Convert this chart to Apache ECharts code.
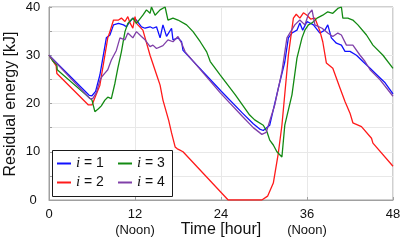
<!DOCTYPE html>
<html><head><meta charset="utf-8">
<script src="https://cdn.jsdelivr.net/npm/echarts@6/dist/echarts.min.js"></script>
<style>html,body{margin:0;padding:0;background:#fff}#c{width:409px;height:242px}</style>
</head><body><div id="c"></div>
<script>
var seriesNames = ['i = 1', 'i = 2', 'i = 3', 'i = 4'];
var legendOrder = ['i = 1', 'i = 3', 'i = 2', 'i = 4'];
var xTicks = [0, 12, 24, 36, 48];
var noonTicks = [12, 36];
var yTicks = [0, 10, 20, 30, 40];
var xTitle = 'Time [hour]';
var yTitle = 'Residual energy [kJ]';

var hours1 = [0, 5.6, 6.0, 6.5, 7.1, 8.0, 8.5, 9.0, 9.7, 10.4, 10.8, 11.3, 11.7, 12.2, 12.9, 13.4, 14.1, 14.5, 15.0, 15.5, 15.9, 16.4, 17.1, 17.3, 18.0, 18.5, 18.7, 24.0, 27.0, 28.5, 29.4, 29.9, 30.8, 32.0, 32.9, 33.4, 33.9, 34.6, 35.0, 35.4, 36.0, 36.9, 37.8, 38.5, 38.9, 39.4, 40.1, 40.8, 41.3, 42.0, 42.9, 43.8, 44.8, 46.2, 46.9, 48];
var energy1 = [30, 21.7, 21.6, 22.5, 25.9, 33.6, 34.2, 36.3, 36.6, 36.3, 35.9, 37.0, 37.7, 37.3, 35.9, 35.6, 35.9, 35.6, 35.9, 33.6, 36.3, 33.9, 35.6, 33.2, 33.6, 32.8, 31.0, 22.6, 18.0, 15.8, 14.7, 14.4, 15.5, 23.2, 28.6, 33.6, 34.6, 35.2, 36.7, 35.2, 37.0, 36.3, 34.6, 35.2, 36.3, 33.6, 32.5, 32.1, 30.8, 30.8, 30.0, 28.7, 27.3, 25.3, 24.3, 22.0];

var hours2 = [0, 1.0, 1.1, 5.5, 6.0, 7.1, 8.2, 8.5, 9.0, 9.7, 10.1, 10.6, 11.0, 11.3, 11.7, 12.0, 12.2, 13.1, 14.1, 15.0, 15.5, 15.9, 16.7, 17.1, 17.6, 17.9, 18.2, 18.7, 25.0, 29.7, 30.5, 31.3, 32.0, 32.5, 33.4, 34.1, 34.5, 35.0, 35.5, 36.0, 36.5, 37.1, 37.8, 38.2, 38.7, 39.6, 40.6, 41.3, 42.0, 42.4, 43.6, 45.0, 45.2, 48];
var energy2 = [30, 27.8, 26.2, 19.7, 19.7, 23.8, 33.6, 34.9, 37.3, 37.3, 37.7, 37.0, 38.0, 36.7, 35.6, 38.0, 36.6, 35.2, 30.0, 26.0, 23.8, 20.7, 16.5, 13.9, 11.0, 10.6, 10.4, 10.0, 0, 0, 0.8, 3.5, 9.7, 15.5, 30.0, 37.7, 38.5, 37.7, 38.8, 38.3, 37.5, 37.7, 35.0, 32.8, 28.4, 27.3, 23.2, 20.4, 18.0, 16.0, 15.2, 12.8, 11.8, 7.0];

var hours3 = [0, 0.6, 1.1, 1.15, 6.0, 6.4, 6.9, 7.3, 7.8, 8.2, 8.7, 9.2, 9.6, 10.1, 10.6, 11.0, 11.7, 12.2, 13.1, 13.6, 14.1, 14.3, 14.8, 15.5, 16.2, 16.6, 17.3, 18.0, 19.2, 20.1, 21.1, 22.0, 22.5, 23.9, 26.0, 28.0, 28.7, 29.9, 30.4, 30.8, 31.3, 31.8, 32.5, 32.9, 33.9, 34.6, 35.3, 35.7, 36.2, 36.7, 37.4, 38.2, 38.9, 39.6, 40.3, 40.8, 41.0, 41.7, 42.4, 43.1, 44.3, 45.2, 46.6, 48];
var energy3 = [30, 28.7, 28.0, 27.0, 20.7, 18.3, 18.9, 19.5, 20.7, 21.3, 21.0, 24.2, 27.3, 30.7, 34.9, 36.6, 37.7, 36.6, 38.3, 39.4, 38.7, 40.0, 38.3, 39.4, 40.0, 37.3, 37.7, 37.3, 36.3, 34.9, 32.8, 30.7, 28.7, 25.9, 21.8, 17.6, 16.6, 15.5, 14.2, 12.4, 11.4, 10.0, 8.9, 15.5, 21.8, 29.4, 33.6, 35.2, 36.3, 36.7, 37.7, 38.3, 39.0, 38.7, 39.7, 40.0, 37.7, 37.7, 37.3, 36.3, 34.2, 32.1, 30.0, 27.3];

var hours4 = [0, 5.7, 6.1, 6.6, 7.1, 7.4, 7.8, 8.2, 8.7, 9.4, 9.9, 10.6, 11.0, 11.3, 11.7, 12.2, 12.9, 13.4, 14.1, 14.5, 15.0, 15.9, 16.6, 17.3, 18.0, 18.5, 19.0, 23.9, 27.0, 28.5, 29.7, 30.3, 31.5, 32.5, 33.2, 33.6, 34.3, 35.0, 35.7, 36.2, 36.7, 37.1, 38.1, 38.9, 39.6, 40.3, 40.8, 41.5, 42.4, 43.4, 44.1, 44.8, 46.2, 48];
var energy4 = [30, 21.0, 21.0, 22.2, 24.8, 25.6, 26.3, 27.0, 29.0, 31.0, 33.6, 33.2, 34.6, 34.2, 33.6, 34.9, 33.9, 33.2, 31.8, 32.1, 31.4, 32.0, 33.2, 32.8, 33.9, 32.5, 30.7, 22.2, 17.3, 15.0, 13.6, 14.0, 19.7, 26.6, 33.6, 34.6, 36.3, 37.3, 36.3, 38.5, 39.4, 36.3, 35.6, 34.6, 33.9, 34.6, 34.2, 32.1, 32.1, 30.0, 28.7, 27.0, 24.9, 21.5];

var colors = ['#1010ff', '#ff1a1a', '#138a13', '#8040a8'];
var hoursList = [hours1, hours2, hours3, hours4];
var energyList = [energy1, energy2, energy3, energy4];

function zip(h, v) { return h.map(function (x, i) { return [x, v[i]]; }); }

var chart = echarts.init(document.getElementById('c'), null, {renderer: 'canvas'});
var FONT = 'Liberation Sans';

chart.setOption({
  animation: false,
  color: colors,
  title: {
    text: ' ', left: 52, top: 150, z: 3,
    textStyle: {fontSize: 1, lineHeight: 1},
    padding: [23, 60, 23, 60],
    backgroundColor: '#ffffff', borderColor: '#1a1a1a', borderWidth: 1
  },
  graphic: [
    {
      type: 'text', x: 11, y: 104, rotation: Math.PI / 2, z: 10,
      style: {text: yTitle, fill: '#111', fontFamily: FONT, fontSize: 16,
              align: 'center', verticalAlign: 'middle', textAlign: 'center', textVerticalAlign: 'middle'}
    },
    {
      type: 'text', x: 221, y: 230, z: 10,
      style: {text: xTitle, fill: '#111', fontFamily: FONT, fontSize: 16,
              align: 'center', verticalAlign: 'middle', textAlign: 'center', textVerticalAlign: 'middle'}
    }
  ],
  grid: {left: 49, right: 16, top: 7, bottom: 42, show: true, borderColor: '#a0a0a0', borderWidth: 1},
  xAxis: {
    type: 'value', min: 0, max: 48, interval: 12,
    axisLine: {show: true, lineStyle: {color: '#a0a0a0'}},
    axisTick: {show: true, inside: true, length: 3, lineStyle: {color: '#a0a0a0'}},
    splitLine: {show: true, lineStyle: {color: '#e8e8e8'}},
    axisLabel: {
      fontFamily: FONT, fontSize: 13, color: '#111', margin: 6, lineHeight: 16,
      formatter: function (v) {
        if (xTicks.indexOf(v) < 0) return '';
        return noonTicks.indexOf(v) >= 0 ? v + '\n(Noon)' : String(v);
      }
    }
  },
  yAxis: {
    type: 'value', min: 0, max: 40, interval: 5,
    axisLine: {show: true, lineStyle: {color: '#a0a0a0'}},
    axisTick: {show: true, inside: true, length: 3, lineStyle: {color: '#a0a0a0'}},
    splitLine: {show: true, lineStyle: {color: '#e8e8e8'}},
    axisLabel: {
      fontFamily: FONT, fontSize: 13, color: '#111', margin: 16, align: 'center',
      formatter: function (v) { return yTicks.indexOf(v) >= 0 ? String(v) : ''; }
    }
  },
  legend: {
    orient: 'horizontal', left: 52, top: 150, width: 120, z: 6,
    padding: [6, 1, 7, 5],
    itemGap: 4, itemWidth: 14, itemHeight: 2, icon: 'rect',
    data: legendOrder,
    textStyle: {
      fontFamily: FONT, fontSize: 14, color: '#111', lineHeight: 15, width: 38,
      rich: {it: {fontFamily: 'Liberation Serif', fontStyle: 'italic', fontSize: 15, lineHeight: 15}}
    },
    formatter: function (name) { return '{it|i}' + name.slice(1); }
  },
  series: seriesNames.map(function (n, k) {
    return {
      name: n, type: 'line', symbol: 'none', z: 2,
      lineStyle: {width: 1.3, color: colors[k]},
      data: zip(hoursList[k], energyList[k])
    };
  })
});
</script>
</body></html>
